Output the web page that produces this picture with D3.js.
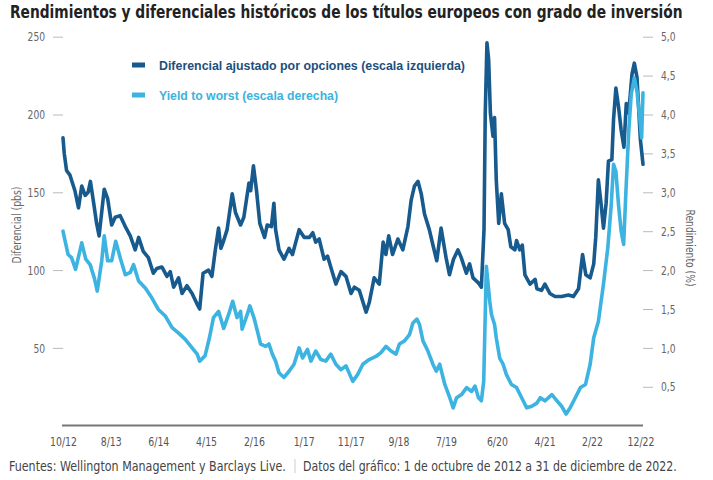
<!DOCTYPE html>
<html>
<head>
<meta charset="utf-8">
<script src="https://cdn.jsdelivr.net/npm/d3@7"></script>
<style>
  html, body { margin: 0; padding: 0; background: #fff; }
  svg { display: block; }
</style>
</head>
<body>
<svg id="chart" width="713" height="480"></svg>
<script>
const titleText = "Rendimientos y diferenciales históricos de los títulos europeos con grado de inversión";
const legendLabels = ["Diferencial ajustado por opciones (escala izquierda)", "Yield to worst (escala derecha)"];
const leftAxisTitle = "Diferencial (pbs)";
const rightAxisTitle = "Rendimiento (%)";
const footerSources = "Fuentes: Wellington Management y Barclays Live.";
const footerDates = "Datos del gráfico: 1 de octubre de 2012 a 31 de diciembre de 2022.";

const leftTicks = [50, 100, 150, 200, 250];
const rightTicks = [0.5, 1, 1.5, 2, 2.5, 3, 3.5, 4, 4.5, 5];
const xTickDates = ["2012-10-01","2013-08-05","2014-06-08","2015-04-12","2016-02-15","2017-01-01","2017-11-01","2018-09-05","2019-07-08","2020-06-01","2021-04-05","2022-02-05","2022-12-15"];
const xTickLabels = ["10/12","8/13","6/14","4/15","2/16","1/17","11/17","9/18","7/19","6/20","4/21","2/22","12/22"];

// Option-adjusted spread (bps, left scale)
const spreadData = [
["2012-10-01",185],["2012-10-09",175],["2012-10-24",164],["2012-11-15",161],["2012-12-17",151],
["2013-01-09",140],["2013-01-30",154],["2013-02-21",148],["2013-03-12",150],["2013-03-27",157],
["2013-04-14",145],["2013-05-06",130],["2013-05-22",122],["2013-06-24",152],["2013-07-16",146],
["2013-08-11",129],["2013-09-03",134],["2013-10-05",135],["2013-11-07",128],["2013-12-09",122],
["2014-01-10",113],["2014-02-01",121],["2014-03-03",112],["2014-04-05",108],["2014-05-07",98],
["2014-05-29",101],["2014-07-01",102],["2014-08-03",96],["2014-08-24",99],["2014-09-15",89],
["2014-10-17",95],["2014-11-08",85],["2014-12-10",90],["2015-01-12",85],["2015-02-14",78],
["2015-03-02",75],["2015-03-24",98],["2015-04-28",100],["2015-05-20",96],["2015-06-11",113],
["2015-07-02",127],["2015-07-17",114],["2015-08-04",119],["2015-08-26",126],["2015-09-28",149],
["2015-10-19",137],["2015-11-21",129],["2015-12-12",134],["2016-01-14",156],["2016-01-25",151],
["2016-02-12",167],["2016-03-03",151],["2016-03-24",130],["2016-04-24",121],["2016-05-11",129],
["2016-06-07",128],["2016-06-23",143],["2016-07-04",126],["2016-07-26",113],["2016-08-27",107],
["2016-09-29",114],["2016-10-21",110],["2016-12-03",126],["2017-01-05",121],["2017-02-07",121],
["2017-03-01",124],["2017-03-20",118],["2017-04-11",120],["2017-05-13",107],["2017-06-04",109],
["2017-06-25",102],["2017-07-28",91],["2017-08-30",99],["2017-10-01",96],["2017-11-03",85],
["2017-11-24",89],["2017-12-26",87],["2018-02-08",73],["2018-02-28",79],["2018-04-01",95],
["2018-05-04",91],["2018-05-29",118],["2018-06-16",110],["2018-07-04",122],["2018-07-29",110],
["2018-09-01",120],["2018-10-03",113],["2018-11-05",128],["2018-11-26",145],["2018-12-17",154],
["2019-01-09",157],["2019-01-30",149],["2019-02-20",136],["2019-03-23",126],["2019-04-18",115],
["2019-05-10",106],["2019-06-07",127],["2019-07-09",108],["2019-07-31",97],["2019-08-26",107],
["2019-09-24",113],["2019-10-15",108],["2019-11-17",98],["2019-12-08",104],["2019-12-30",95],
["2020-02-01",92],["2020-02-22",89],["2020-03-10",126],["2020-03-18",201],["2020-03-29",246],
["2020-04-09",235],["2020-04-20",201],["2020-05-07",186],["2020-05-17",198],["2020-05-28",158],
["2020-06-13",130],["2020-06-30",149],["2020-07-21",130],["2020-08-13",126],["2020-08-30",115],
["2020-09-25",113],["2020-10-06",119],["2020-10-27",113],["2020-11-12",116],["2020-11-29",97],
["2021-01-01",91],["2021-02-03",94],["2021-02-14",88],["2021-03-16",87],["2021-04-07",91],
["2021-05-09",85],["2021-06-11",83],["2021-07-24",83],["2021-09-06",84],["2021-10-08",83],
["2021-11-10",88],["2021-12-06",110],["2021-12-27",97],["2022-01-24",95],["2022-02-16",104],
["2022-03-01",121],["2022-03-18",158],["2022-04-04",143],["2022-04-20",127],["2022-05-07",143],
["2022-05-22",170],["2022-06-13",171],["2022-06-24",197],["2022-07-09",217],["2022-07-26",205],
["2022-08-12",190],["2022-08-30",179],["2022-09-14",207],["2022-09-30",201],["2022-10-21",226],
["2022-11-05",233],["2022-11-22",224],["2022-12-14",184],["2022-12-31",168]
];

// Yield to worst (%, right scale)
const yieldData = [
["2012-10-01",2.50],["2012-10-13",2.39],["2012-11-03",2.20],["2012-11-25",2.16],["2012-12-21",2.01],
["2013-01-30",2.35],["2013-02-25",2.14],["2013-03-25",2.07],["2013-04-21",1.90],["2013-05-10",1.73],
["2013-06-08",2.12],["2013-06-24",2.44],["2013-07-16",2.12],["2013-08-11",2.12],["2013-09-06",2.37],
["2013-10-05",2.16],["2013-11-07",1.94],["2013-12-09",1.97],["2013-12-30",2.07],["2014-02-01",1.86],
["2014-03-16",1.77],["2014-04-28",1.64],["2014-06-10",1.49],["2014-07-23",1.41],["2014-09-05",1.26],
["2014-10-17",1.19],["2014-11-29",1.11],["2015-01-12",1.00],["2015-02-14",0.92],["2015-03-02",0.83],
["2015-04-06",0.90],["2015-05-04",1.13],["2015-05-30",1.39],["2015-07-02",1.47],["2015-08-04",1.25],
["2015-09-05",1.43],["2015-10-01",1.60],["2015-10-29",1.39],["2015-11-21",1.47],["2015-12-01",1.24],
["2016-01-03",1.43],["2016-01-20",1.54],["2016-02-15",1.39],["2016-03-08",1.22],["2016-03-29",1.05],
["2016-05-01",1.02],["2016-05-22",1.05],["2016-06-13",0.92],["2016-07-04",0.83],["2016-07-26",0.68],
["2016-08-27",0.62],["2016-09-29",0.70],["2016-10-31",0.79],["2016-12-03",1.00],["2016-12-25",0.87],
["2017-01-26",0.98],["2017-02-17",0.83],["2017-03-20",0.96],["2017-04-22",0.85],["2017-05-24",0.83],
["2017-06-25",0.92],["2017-07-28",0.79],["2017-08-30",0.72],["2017-10-01",0.77],["2017-11-14",0.57],
["2017-12-16",0.66],["2018-01-18",0.79],["2018-02-28",0.85],["2018-04-12",0.89],["2018-05-15",0.94],
["2018-06-16",1.02],["2018-07-19",0.96],["2018-08-20",0.92],["2018-09-11",1.05],["2018-10-14",1.09],
["2018-11-15",1.17],["2018-12-07",1.32],["2019-01-02",1.37],["2019-01-19",1.30],["2019-02-10",1.09],
["2019-03-14",0.96],["2019-04-15",0.79],["2019-05-07",0.70],["2019-05-29",0.79],["2019-07-01",0.53],
["2019-08-02",0.36],["2019-08-24",0.23],["2019-09-15",0.36],["2019-10-17",0.40],["2019-11-19",0.49],
["2019-12-21",0.44],["2020-01-12",0.51],["2020-02-03",0.36],["2020-02-22",0.32],["2020-03-08",0.57],
["2020-03-25",2.05],["2020-04-16",1.60],["2020-04-27",1.43],["2020-05-17",1.30],["2020-05-28",1.13],
["2020-06-19",0.87],["2020-07-11",0.79],["2020-08-01",0.66],["2020-09-03",0.53],["2020-10-06",0.49],
["2020-11-08",0.36],["2020-12-10",0.23],["2021-01-12",0.25],["2021-02-14",0.29],["2021-03-08",0.36],
["2021-04-07",0.32],["2021-05-22",0.40],["2021-06-24",0.32],["2021-07-24",0.25],["2021-08-22",0.15],
["2021-09-17",0.23],["2021-10-20",0.36],["2021-11-22",0.49],["2021-12-25",0.53],["2022-01-24",0.79],
["2022-02-16",1.13],["2022-03-18",1.34],["2022-04-20",1.82],["2022-05-18",2.29],["2022-06-09",2.84],
["2022-06-24",3.36],["2022-07-09",3.27],["2022-07-26",2.84],["2022-08-12",2.50],["2022-08-28",2.33],
["2022-09-12",3.02],["2022-09-30",3.79],["2022-10-16",4.26],["2022-11-05",4.47],["2022-11-22",4.30],
["2022-12-14",3.87],["2022-12-22",3.70],["2022-12-31",4.28]
];

const colors = { spread: "#175a8e", yield: "#3cb3e0", spreadText: "#1d4f7c", yieldText: "#3db2de" };

const parse = d3.timeParse("%Y-%m-%d");
const svg = d3.select("#chart");
const condensed = "'Liberation Sans Narrow', 'DejaVu Sans Condensed', 'Roboto', sans-serif";

// compress a text horizontally (imitating a condensed typeface) with textLength
function squeeze(sel, factor, target) {
  sel.each(function () {
    const len = this.getComputedTextLength();
    const t = target != null ? target : len * factor;
    d3.select(this).attr("textLength", t).attr("lengthAdjust", "spacingAndGlyphs");
  });
}
// compress a text horizontally with a scale transform so its box stays true
function squeezeT(sel, x0, y0, target) {
  sel.attr("x", 0).attr("y", 0);
  const len = sel.node().getComputedTextLength();
  sel.attr("transform", `translate(${x0},${y0}) scale(${target / len},1)`);
}

const x = d3.scaleTime()
  .domain([parse("2012-10-01"), parse("2022-12-31")])
  .range([63, 643]);
const yL = d3.scaleLinear().domain([0, 250]).range([425.7, 36.7]);
const yR = d3.scaleLinear().domain([0, 5]).range([425.7, 36.7]);

const es = d3.formatLocale({decimal: ",", thousands: ".", grouping: [3], currency: ["", "€"]});
const fmtR = es.format(".1f");

// Title
const title = svg.append("text")
  .attr("font-family", condensed).attr("font-weight", "bold")
  .attr("font-size", 17).attr("fill", "#222")
  .text(titleText);
squeezeT(title, 10, 18, 673);

// Left axis
const gL = svg.append("g").attr("transform", "translate(63,0)")
  .call(d3.axisLeft(yL).tickValues(leftTicks).tickSize(10).tickPadding(8));
// Right axis
const gR = svg.append("g").attr("transform", "translate(643,0)")
  .call(d3.axisRight(yR).tickValues(rightTicks).tickFormat(fmtR).tickSize(10).tickPadding(8));
[gL, gR].forEach(g => {
  g.select(".domain").remove();
  g.selectAll(".tick line").attr("stroke", "#bbb").attr("stroke-width", 1);
  g.selectAll(".tick text").attr("fill", "#666").attr("font-size", 13).attr("font-family", condensed);
  squeeze(g.selectAll(".tick text"), 0.78);
});

// X axis
const gX = svg.append("g").attr("transform", "translate(0,425.5)")
  .call(d3.axisBottom(x).tickValues(xTickDates.map(parse))
    .tickFormat((d, i) => xTickLabels[i]).tickSize(0).tickPadding(11));
gX.select(".domain").attr("stroke", "#777").attr("stroke-width", 2.2)
  .attr("d", "M62,0H643");
gX.selectAll(".tick text").attr("fill", "#555").attr("font-size", 13).attr("font-family", condensed);
squeeze(gX.selectAll(".tick text"), 0.8);

// Axis titles
const lt = svg.append("text")
  .attr("transform", "translate(21,225) rotate(-90)")
  .attr("text-anchor", "middle").attr("font-family", condensed)
  .attr("font-size", 13).attr("fill", "#666").text(leftAxisTitle);
squeeze(lt, null, 77);
const rt = svg.append("text")
  .attr("transform", "translate(686,248) rotate(90)")
  .attr("text-anchor", "middle").attr("font-family", condensed)
  .attr("font-size", 13).attr("fill", "#666").text(rightAxisTitle);
squeeze(rt, null, 77);

// Lines
const spreadLine = d3.line().x(d => x(parse(d[0]))).y(d => yL(d[1])).curve(d3.curveLinear);
const yieldLine = d3.line().x(d => x(parse(d[0]))).y(d => yR(d[1])).curve(d3.curveLinear);

svg.append("path").datum(spreadData)
  .attr("d", spreadLine).attr("fill", "none")
  .attr("stroke", colors.spread).attr("stroke-width", 3.6)
  .attr("stroke-linejoin", "round").attr("stroke-linecap", "round");
svg.append("path").datum(yieldData)
  .attr("d", yieldLine).attr("fill", "none")
  .attr("stroke", colors.yield).attr("stroke-width", 3.6)
  .attr("stroke-linejoin", "round").attr("stroke-linecap", "round");

// Legend
const legend = svg.append("g");
[[legendLabels[0], colors.spread, colors.spreadText, 65, 306], [legendLabels[1], colors.yield, colors.yieldText, 95, 179]]
  .forEach(([label, c, tc, yy, w]) => {
    legend.append("rect").attr("x", 132).attr("y", yy - 2.5).attr("width", 13).attr("height", 5).attr("fill", c);
    const t = legend.append("text").attr("x", 159).attr("y", yy + 4.5)
      .attr("font-family", "'Liberation Sans', Arial, sans-serif").attr("font-weight", "bold")
      .attr("font-size", 12.5).attr("fill", tc).text(label);
    squeeze(t, null, w);
  });

// Footer
const f1 = svg.append("text")
  .attr("font-family", condensed).attr("font-size", 13.5).attr("fill", "#444")
  .text(footerSources);
squeezeT(f1, 9, 471, 277);
svg.append("line").attr("x1", 295).attr("x2", 295).attr("y1", 459).attr("y2", 473)
  .attr("stroke", "#ccc").attr("stroke-width", 1);
const f2 = svg.append("text")
  .attr("font-family", condensed).attr("font-size", 13.5).attr("fill", "#444")
  .text(footerDates);
squeezeT(f2, 303, 471, 374);
</script>
</body>
</html>
